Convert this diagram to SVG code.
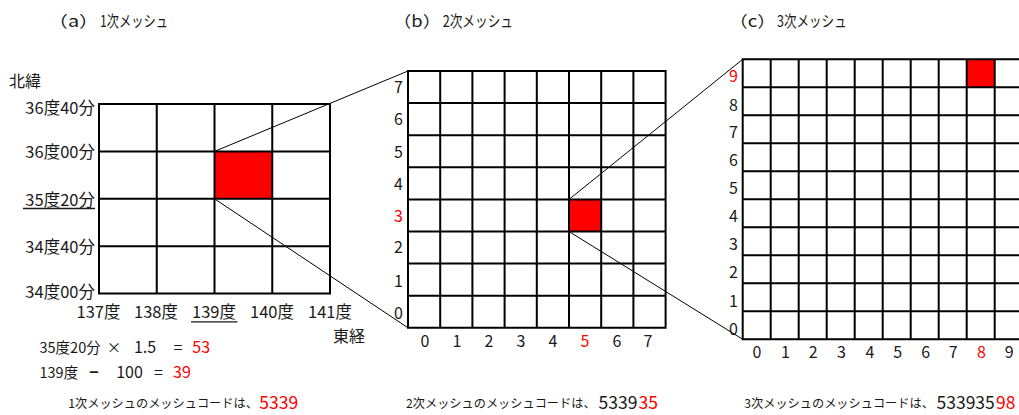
<svg xmlns="http://www.w3.org/2000/svg" width="1019" height="415" viewBox="0 0 1019 415">
<style>
text{font-family:"Noto Sans CJK JP","Noto Sans",sans-serif;fill:#1a1a1a}
.t{font-size:15.5px}
.l{font-size:16px}
.a{font-size:16.5px}
.f{font-size:14.5px}
.s{font-size:12.2px}
.d{font-size:17.5px}
.m{text-anchor:middle}
.e{text-anchor:end}
.b{font-weight:bold}
.r{fill:#ff0000}
.grid{fill:none;stroke:#000;stroke-width:2}
.cell{fill:#ff0000}
.conn{stroke:#000;stroke-width:1;fill:none}
.ul{stroke:#1a1a1a;stroke-width:1.3}
</style>
<rect width="1019" height="415" fill="#fff"/>

<g id="panel-a">
  <text class="t" x="48" y="27" textLength="51" lengthAdjust="spacingAndGlyphs">（a）</text>
  <text class="t" x="100" y="27" textLength="68" lengthAdjust="spacingAndGlyphs">1次メッシュ</text>
  <rect class="cell" x="214.5" y="151.4" width="57.75" height="47.4"/>
  <path class="grid" d="M99 104H330V293.6H99Z M156.75 104V293.6 M214.5 104V293.6 M272.25 104V293.6 M99 151.4H330 M99 198.8H330 M99 246.2H330"/>
  <text class="l" x="9" y="87">北緯</text>
  <text class="a e" x="95" y="113.5">36度40分</text>
  <text class="a e" x="95" y="158">36度00分</text>
  <text class="a e" x="95" y="206">35度20分</text>
  <line class="ul" x1="23" y1="208.5" x2="95" y2="208.5"/>
  <text class="a e" x="95" y="253">34度40分</text>
  <text class="a e" x="95" y="298">34度00分</text>
  <text class="a m" x="98.5" y="318">137度</text>
  <text class="a m" x="156" y="318">138度</text>
  <text class="a m" x="214" y="318">139度</text>
  <line class="ul" x1="191" y1="321.8" x2="237.5" y2="321.8"/>
  <text class="a m" x="272" y="318">140度</text>
  <text class="a m" x="330" y="318">141度</text>
  <text class="l" x="333" y="342">東経</text>
  <text class="f" x="39.5" y="353">35度20分</text>
  <text class="f m" x="114" y="353">×</text>
  <text class="l m" x="145" y="353">1.5</text>
  <text class="l m" x="178" y="353">=</text>
  <text class="l r" x="192.3" y="353">53</text>
  <text class="f" x="39.5" y="378">139度</text>
  <text class="l m b" x="94" y="378">−</text>
  <text class="l m" x="129.5" y="378">100</text>
  <text class="l m" x="158.5" y="378">=</text>
  <text class="l r" x="173" y="378">39</text>
  <text class="s" x="68.3" y="407.5">1次メッシュのメッシュコードは、</text>
  <text class="d r" x="259.3" y="408.5">5339</text>
</g>

<g id="panel-b">
  <text class="t" x="393" y="27" textLength="48" lengthAdjust="spacingAndGlyphs">（b）</text>
  <text class="t" x="442.7" y="27" textLength="70.3" lengthAdjust="spacingAndGlyphs">2次メッシュ</text>
  <rect class="cell" x="569" y="199.4" width="32.2" height="32.1"/>
  <path class="grid" d="M408 71H665.6V327.8H408Z M440.2 71V327.8 M472.4 71V327.8 M504.6 71V327.8 M536.8 71V327.8 M569 71V327.8 M601.2 71V327.8 M633.4 71V327.8 M408 103.1H665.6 M408 135.2H665.6 M408 167.3H665.6 M408 199.4H665.6 M408 231.5H665.6 M408 263.6H665.6 M408 295.7H665.6"/>
  <text class="l e" x="403" y="93">7</text>
  <text class="l e" x="403" y="125">6</text>
  <text class="l e" x="403" y="158">5</text>
  <text class="l e" x="403" y="190">4</text>
  <text class="l e r" x="403" y="221.5">3</text>
  <text class="l e" x="403" y="253">2</text>
  <text class="l e" x="403" y="286.5">1</text>
  <text class="l e" x="403" y="319">0</text>
  <text class="l m" x="425" y="346.5">0</text>
  <text class="l m" x="457" y="346.5">1</text>
  <text class="l m" x="489" y="346.5">2</text>
  <text class="l m" x="521" y="346.5">3</text>
  <text class="l m" x="553" y="346.5">4</text>
  <text class="l m r" x="585" y="346.5">5</text>
  <text class="l m" x="617" y="346.5">6</text>
  <text class="l m" x="648" y="346.5">7</text>
  <text class="s" x="406" y="407.5">2次メッシュのメッシュコードは、</text>
  <text class="d" x="598.6" y="408.5">5339</text>
  <text class="d r" x="638.5" y="408.5">35</text>
</g>

<g id="panel-c">
  <text class="t" x="729" y="27" textLength="47" lengthAdjust="spacingAndGlyphs">（c）</text>
  <text class="t" x="777" y="27" textLength="69.7" lengthAdjust="spacingAndGlyphs">3次メッシュ</text>
  <rect class="cell" x="966.7" y="59.3" width="28" height="28"/>
  <path class="grid" d="M742.7 59.3V339.3 M770.7 59.3V339.3 M798.7 59.3V339.3 M826.7 59.3V339.3 M854.7 59.3V339.3 M882.7 59.3V339.3 M910.7 59.3V339.3 M938.7 59.3V339.3 M966.7 59.3V339.3 M994.7 59.3V339.3 M741.7 59.3H1020 M742.7 87.3H1020 M742.7 115.3H1020 M742.7 143.3H1020 M742.7 171.3H1020 M742.7 199.3H1020 M742.7 227.3H1020 M742.7 255.3H1020 M742.7 283.3H1020 M742.7 311.3H1020 M741.7 339.3H1020"/>
  <text class="l e r" x="738" y="82">9</text>
  <text class="l e" x="738" y="111">8</text>
  <text class="l e" x="738" y="138">7</text>
  <text class="l e" x="738" y="166">6</text>
  <text class="l e" x="738" y="194">5</text>
  <text class="l e" x="738" y="222">4</text>
  <text class="l e" x="738" y="250">3</text>
  <text class="l e" x="738" y="278">2</text>
  <text class="l e" x="738" y="307">1</text>
  <text class="l e" x="738" y="335">0</text>
  <text class="l m" x="757" y="357.5">0</text>
  <text class="l m" x="785.5" y="357.5">1</text>
  <text class="l m" x="813.3" y="357.5">2</text>
  <text class="l m" x="841.5" y="357.5">3</text>
  <text class="l m" x="870" y="357.5">4</text>
  <text class="l m" x="897.7" y="357.5">5</text>
  <text class="l m" x="925.7" y="357.5">6</text>
  <text class="l m" x="953.3" y="357.5">7</text>
  <text class="l m r" x="981.5" y="357.5">8</text>
  <text class="l m" x="1009.3" y="357.5">9</text>
  <text class="s" x="744.3" y="407.5">3次メッシュのメッシュコードは、</text>
  <text class="d" x="936.5" y="408.5">533935</text>
  <text class="d r" x="996" y="408.5">98</text>
</g>

<g id="connectors">
  <line class="conn" x1="214.5" y1="151.4" x2="408" y2="71"/>
  <line class="conn" x1="214.5" y1="198.8" x2="408" y2="327.8"/>
  <line class="conn" x1="569" y1="199.4" x2="742.7" y2="59.3"/>
  <line class="conn" x1="569" y1="231.5" x2="742.7" y2="339.3"/>
</g>
</svg>
